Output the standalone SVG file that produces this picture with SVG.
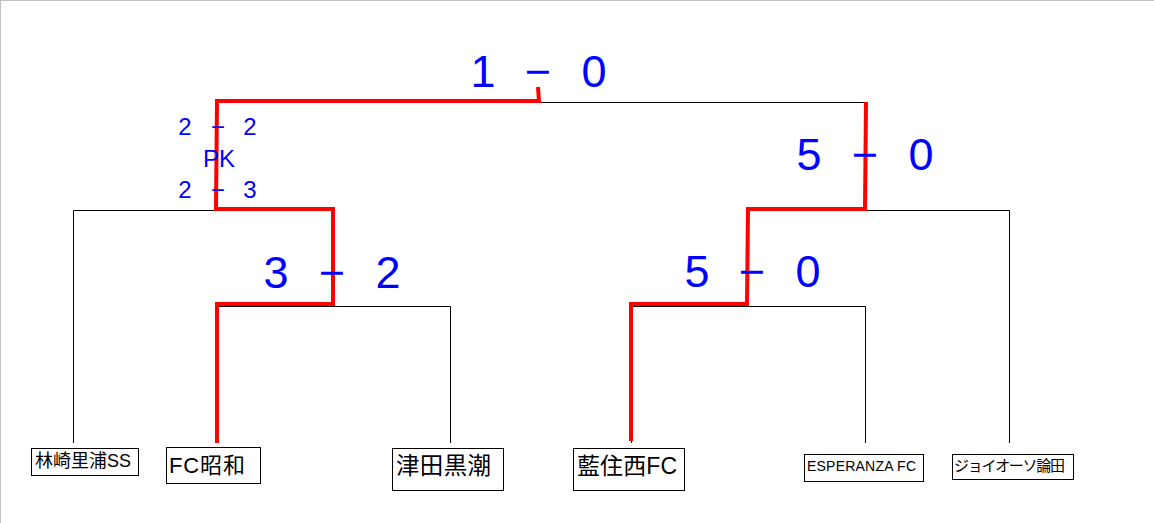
<svg xmlns="http://www.w3.org/2000/svg" width="1154" height="523" viewBox="0 0 1154 523">
<style>
.ln{stroke:#000;stroke-width:1;fill:none}
.win{stroke:#FF0000;stroke-width:4;fill:none;stroke-linejoin:miter}
.score{font-family:"Liberation Sans",Arial,sans-serif;font-size:45px;fill:#0000FF;text-anchor:middle}
.pk{font-family:"Liberation Sans",Arial,sans-serif;font-size:24px;fill:#0000FF;text-anchor:middle}
.box{fill:#fff;stroke:#000;stroke-width:1}
.team{font-family:"Liberation Sans","Noto Sans CJK JP",sans-serif;fill:#000}
</style>
<rect x="0" y="0" width="1154" height="523" fill="#fff"/>
<line x1="0" y1="0.5" x2="1154" y2="0.5" stroke="#c0c0c0" stroke-width="1"/>
<line x1="0.5" y1="0" x2="0.5" y2="523" stroke="#c0c0c0" stroke-width="1"/>

<g id="connectors">
  <!-- bracket lines -->
  <path class="ln" d="M217,102.5 H866.5 V210.5"/>
  <path class="ln" d="M73.5,443 V210.5 H333.5 V306.5"/>
  <path class="ln" d="M217.5,443 V306.5 H450.5 V443"/>
  <path class="ln" d="M1009.5,443 V210.5 H748.5 V306.5"/>
  <path class="ln" d="M631.5,443 V306.5 H865.5 V443"/>
  <!-- winner paths -->
  <path class="win" d="M538,87 L539,101 H217 L216,209 H333 V304 H217 V443"/>
  <path class="win" d="M866,102 L865,209 H748 L747,304 H631 V441"/>
</g>

<g id="score-final">
  <text class="score" y="87"><tspan x="483">1</tspan><tspan x="538">−</tspan><tspan x="594">0</tspan></text>
</g>
<g id="score-semi-left">
  <text class="pk" y="135"><tspan x="185">2</tspan><tspan x="218">−</tspan><tspan x="250">2</tspan></text>
  <text class="pk" x="219" y="167">PK</text>
  <text class="pk" y="198"><tspan x="185">2</tspan><tspan x="218">−</tspan><tspan x="250">3</tspan></text>
</g>
<g id="score-semi-right">
  <text class="score" y="170"><tspan x="809">5</tspan><tspan x="865">−</tspan><tspan x="921">0</tspan></text>
</g>
<g id="score-qf-left">
  <text class="score" y="288"><tspan x="276">3</tspan><tspan x="332">−</tspan><tspan x="388">2</tspan></text>
</g>
<g id="score-qf-right">
  <text class="score" y="287"><tspan x="697">5</tspan><tspan x="752">−</tspan><tspan x="808">0</tspan></text>
</g>

<g id="team-1">
  <rect class="box" x="31.5" y="448.5" width="107" height="27"/>
  <text class="team" x="35" y="467" font-size="18" textLength="96">林崎里浦SS</text>
</g>
<g id="team-2">
  <rect class="box" x="166.5" y="447.5" width="94" height="36"/>
  <text class="team" x="169" y="473" font-size="22" textLength="76">FC昭和</text>
</g>
<g id="team-3">
  <rect class="box" x="392.5" y="448.5" width="111" height="42"/>
  <text class="team" x="396" y="474" font-size="23.5" textLength="95">津田黒潮</text>
</g>
<g id="team-4">
  <rect class="box" x="573.5" y="448.5" width="111" height="42"/>
  <text class="team" x="577" y="474" font-size="23" textLength="100">藍住西FC</text>
</g>
<g id="team-5">
  <rect class="box" x="804.5" y="454.5" width="119" height="27"/>
  <text class="team" x="807" y="471" font-size="14" textLength="109">ESPERANZA FC</text>
</g>
<g id="team-6">
  <rect class="box" x="952.5" y="454.5" width="121" height="25"/>
  <text class="team" x="954" y="471" font-size="15" textLength="111">ジョイオーソ論田</text>
</g>
</svg>
